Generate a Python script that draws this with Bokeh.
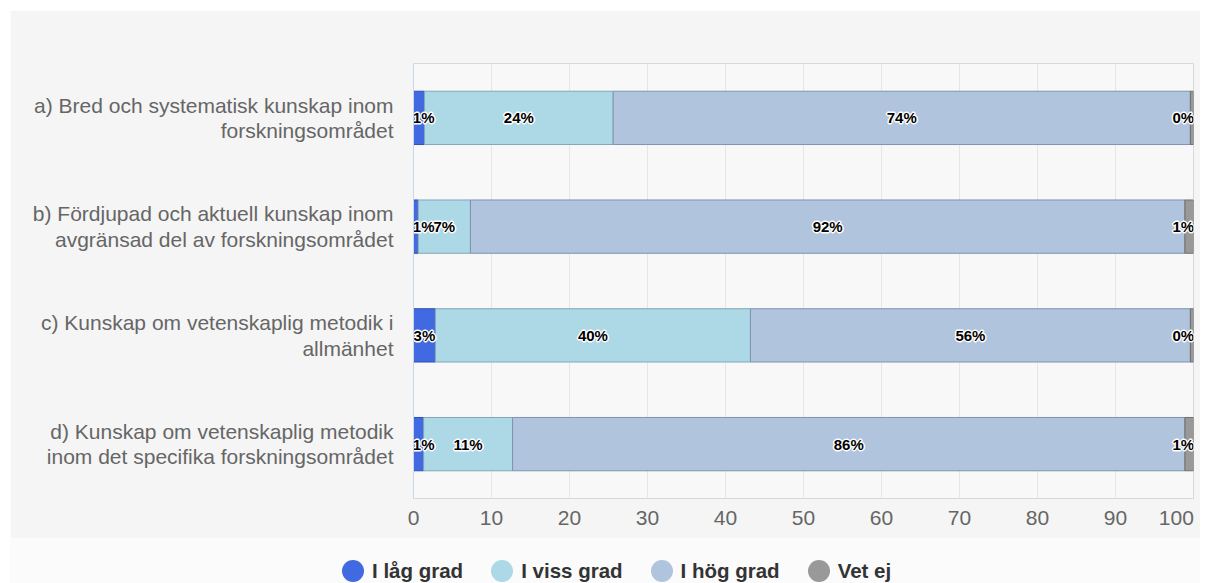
from bokeh.plotting import figure
from bokeh.layouts import column
from bokeh.models import ColumnDataSource, FactorRange, Range1d, FixedTicker, Div
from bokeh.core.properties import value
from bokeh.embed import file_html
from bokeh.resources import INLINE

categories = [
    "a) Bred och systematisk kunskap inom\nforskningsområdet",
    "b) Fördjupad och aktuell kunskap inom\navgränsad del av forskningsområdet",
    "c) Kunskap om vetenskaplig metodik i\nallmänhet",
    "d) Kunskap om vetenskaplig metodik\ninom det specifika forskningsområdet",
]
series_names = ["I låg grad", "I viss grad", "I hög grad", "Vet ej"]
lag_grad = [1.4, 0.6, 2.8, 1.3]
viss_grad = [24.2, 6.7, 40.4, 11.4]
hog_grad = [74.0, 91.6, 56.4, 86.2]
vet_ej = [0.4, 1.1, 0.4, 1.1]
x_ticks = [0, 10, 20, 30, 40, 50, 60, 70, 80, 90, 100]

colors = ["#4169E1", "#ADD8E6", "#B0C4DE", "#999999"]
edge_colors = ["#2d4fb5", "#83a6b8", "#7e93b2", "#707070"]
FONT = "Liberation Sans"

series = [lag_grad, viss_grad, hog_grad, vet_ej]
keys = ["s0", "s1", "s2", "s3"]
data = {"cat": categories}
for k, s in zip(keys, series):
    data[k] = s
source = ColumnDataSource(data)

p = figure(
    width=1190, height=528,
    y_range=FactorRange(*categories[::-1], range_padding=0),
    x_range=Range1d(0, 100),
    output_backend="svg", toolbar_location=None,
    min_border_left=403, min_border_right=7, min_border_top=53, min_border_bottom=40,
    margin=(10, 0, 0, 10),
)
p.border_fill_color = "#f5f5f5"
p.background_fill_color = "#f8f8f8"
p.outline_line_color = "#d8d8d8"
p.outline_line_width = 1

p.hbar_stack(keys, y="cat", height=0.49, source=source,
             fill_color=colors, line_color=edge_colors, line_width=1)

# data labels (white halo underneath, black text on top)
lx, ly, lt = [], [], []
for i, cat in enumerate(categories):
    cum = 0.0
    for s in series:
        v = s[i]
        mid = cum + v / 2.0
        cum += v
        lx.append(min(max(mid, 1.3), 98.7))
        ly.append(cat)
        lt.append(f"{round(v)}%")
lsrc = ColumnDataSource(dict(x=lx, y=ly, t=lt))
common = dict(x="x", y="y", text="t", source=lsrc, text_align="center", text_baseline="middle",
              text_font=value(FONT), text_font_style="bold", text_font_size="15px")
for dx, dy in [(-1, 0), (1, 0), (0, -1), (0, 1)]:
    p.text(text_color="#ffffff", text_outline_color="#ffffff", x_offset=dx, y_offset=dy, **common)
p.text(text_color="#000000", **common)

# grid uses every tick; the last axis label is pulled inside the frame like in the original
p.xgrid.ticker = FixedTicker(ticks=x_ticks)
p.xgrid.grid_line_color = "#e6e6e6"
p.ygrid.grid_line_color = None
label_pos = x_ticks[:-1] + [x_ticks[-1] - 2.2]
p.xaxis.ticker = FixedTicker(ticks=label_pos)
p.xaxis.major_label_overrides = {label_pos[-1]: str(x_ticks[-1])}
p.xaxis.axis_line_color = None
p.xaxis.major_tick_line_color = None
p.xaxis.minor_tick_line_color = None
p.xaxis.major_tick_out = 0
p.xaxis.major_tick_in = 0
p.xaxis.major_label_standoff = 12
p.xaxis.major_label_text_font = FONT
p.xaxis.major_label_text_font_size = "21px"
p.xaxis.major_label_text_color = "#666666"

p.yaxis.axis_line_color = "#ccd6eb"
p.yaxis.major_tick_line_color = None
p.yaxis.minor_tick_line_color = None
p.yaxis.major_tick_out = 0
p.yaxis.major_tick_in = 0
p.yaxis.major_label_standoff = 20
p.yaxis.major_label_text_font = FONT
p.yaxis.major_label_text_font_size = "21px"
p.yaxis.major_label_text_color = "#666666"
p.yaxis.major_label_text_line_height = 1.1

# legend strip below the chart, built from the series names and colours
entries = []
for name, c in zip(series_names, colors):
    entries.append(
        '<span style="display:inline-flex;align-items:center;margin-right:28px;">'
        f'<span style="display:inline-block;width:22px;height:22px;border-radius:50%;'
        f'background:{c};margin-right:8px;"></span>'
        f'<span>{name}</span></span>'
    )
legend_html = (
    '<div style="position:relative;width:1190px;height:45px;background:#fbfbfb;">'
    '<div style="position:absolute;left:332px;top:21px;height:24px;display:flex;'
    "align-items:center;font-family:'Liberation Sans',Arial,sans-serif;font-weight:bold;"
    'font-size:20.5px;color:#333333;white-space:nowrap;">'
    + "".join(entries) +
    '</div></div>'
)
legend_div = Div(text=legend_html, width=1190, height=45, margin=(0, 0, 0, 10))

layout = column(p, legend_div, spacing=0)
open("out.html", "w").write(file_html(layout, INLINE))
